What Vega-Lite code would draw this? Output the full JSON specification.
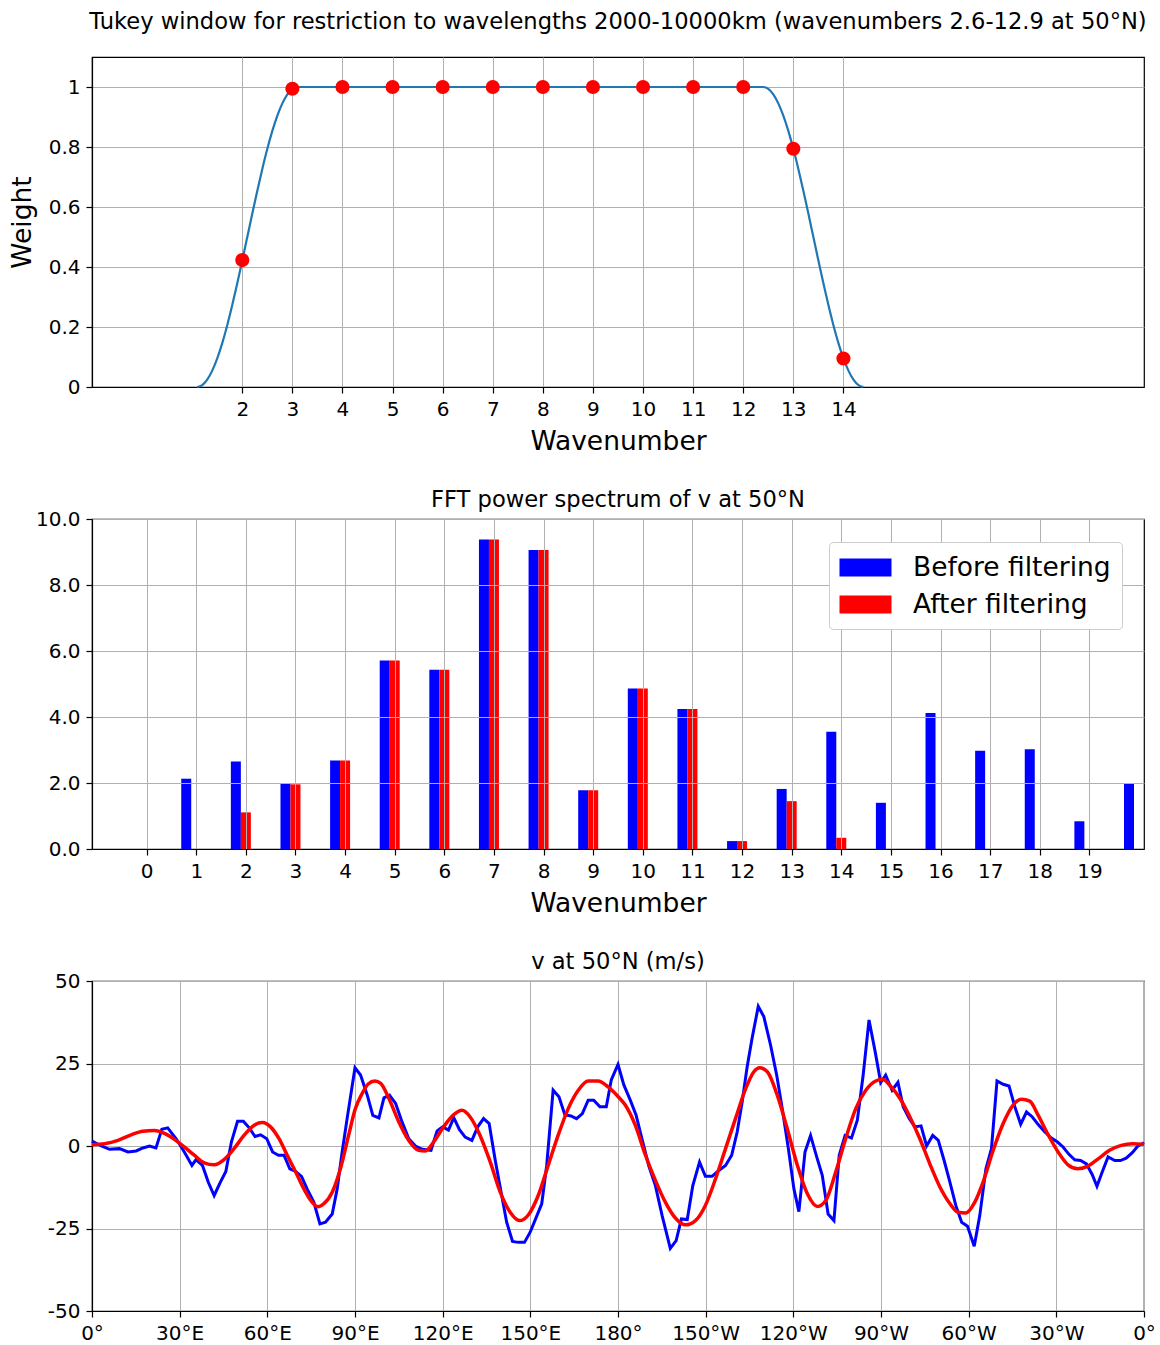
{
  "$schema": "https://vega.github.io/schema/vega-lite/v6.json",
  "background": "white",
  "padding": {"left": 8, "top": 10, "right": 5, "bottom": 2},
  "bounds": "flush",
  "spacing": 132,
  "resolve": {"legend": {"color": "independent"}},
  "config": {
    "font": "DejaVu Sans",
    "view": {"stroke": "#000000", "strokeWidth": 1.2},
    "axis": {
      "labelFont": "DejaVu Sans", "labelFontSize": 20, "labelColor": "#000000", "labelFlush": false,
      "titleFont": "DejaVu Sans", "titleFontSize": 26.5, "titleFontWeight": "normal", "titleColor": "#000000",
      "gridColor": "#b0b0b0", "gridWidth": 1, "gridOpacity": 1,
      "tickColor": "#000000", "tickSize": 6, "tickWidth": 1.2,
      "domainColor": "#000000", "domainWidth": 1.2, "labelPadding": 6
    },
    "title": {"font": "DejaVu Sans", "fontSize": 22.6, "fontWeight": "normal", "color": "#000000", "frame": "group"}
  },
  "datasets": {
    "tukey": [
      {"k": 1.1, "w": 0}, {"k": 1.2, "w": 0.0062}, {"k": 1.3, "w": 0.0245}, {"k": 1.4, "w": 0.0545},
      {"k": 1.5, "w": 0.0955}, {"k": 1.6, "w": 0.1464}, {"k": 1.7, "w": 0.2061}, {"k": 1.8, "w": 0.273},
      {"k": 1.9, "w": 0.3455}, {"k": 2.0, "w": 0.4218}, {"k": 2.1, "w": 0.5}, {"k": 2.2, "w": 0.5782},
      {"k": 2.3, "w": 0.6545}, {"k": 2.4, "w": 0.727}, {"k": 2.5, "w": 0.7939}, {"k": 2.6, "w": 0.8536},
      {"k": 2.7, "w": 0.9045}, {"k": 2.8, "w": 0.9455}, {"k": 2.9, "w": 0.9755}, {"k": 3.0, "w": 0.9938},
      {"k": 3.1, "w": 1}, {"k": 12.4, "w": 1}, {"k": 12.5, "w": 0.9938}, {"k": 12.6, "w": 0.9755},
      {"k": 12.7, "w": 0.9455}, {"k": 12.8, "w": 0.9045}, {"k": 12.9, "w": 0.8536}, {"k": 13.0, "w": 0.7939},
      {"k": 13.1, "w": 0.727}, {"k": 13.2, "w": 0.6545}, {"k": 13.3, "w": 0.5782}, {"k": 13.4, "w": 0.5},
      {"k": 13.5, "w": 0.4218}, {"k": 13.6, "w": 0.3455}, {"k": 13.7, "w": 0.273}, {"k": 13.8, "w": 0.2061},
      {"k": 13.9, "w": 0.1464}, {"k": 14.0, "w": 0.0955}, {"k": 14.1, "w": 0.0545}, {"k": 14.2, "w": 0.0245},
      {"k": 14.3, "w": 0.0062}, {"k": 14.4, "w": 0}
    ],
    "pts": [
      {"k": 2, "w": 0.423}, {"k": 3, "w": 0.994}, {"k": 4, "w": 1}, {"k": 5, "w": 1}, {"k": 6, "w": 1},
      {"k": 7, "w": 1}, {"k": 8, "w": 1}, {"k": 9, "w": 1}, {"k": 10, "w": 1}, {"k": 11, "w": 1},
      {"k": 12, "w": 1}, {"k": 13, "w": 0.794}, {"k": 14, "w": 0.095}
    ],
    "spec": [
      {"k": 0, "series": "Before filtering", "p": 0}, {"k": 0, "series": "After filtering", "p": 0},
      {"k": 1, "series": "Before filtering", "p": 2.13}, {"k": 1, "series": "After filtering", "p": 0},
      {"k": 2, "series": "Before filtering", "p": 2.65}, {"k": 2, "series": "After filtering", "p": 1.11},
      {"k": 3, "series": "Before filtering", "p": 1.97}, {"k": 3, "series": "After filtering", "p": 1.96},
      {"k": 4, "series": "Before filtering", "p": 2.68}, {"k": 4, "series": "After filtering", "p": 2.68},
      {"k": 5, "series": "Before filtering", "p": 5.71}, {"k": 5, "series": "After filtering", "p": 5.71},
      {"k": 6, "series": "Before filtering", "p": 5.43}, {"k": 6, "series": "After filtering", "p": 5.43},
      {"k": 7, "series": "Before filtering", "p": 9.38}, {"k": 7, "series": "After filtering", "p": 9.38},
      {"k": 8, "series": "Before filtering", "p": 9.06}, {"k": 8, "series": "After filtering", "p": 9.06},
      {"k": 9, "series": "Before filtering", "p": 1.78}, {"k": 9, "series": "After filtering", "p": 1.78},
      {"k": 10, "series": "Before filtering", "p": 4.86}, {"k": 10, "series": "After filtering", "p": 4.86},
      {"k": 11, "series": "Before filtering", "p": 4.24}, {"k": 11, "series": "After filtering", "p": 4.24},
      {"k": 12, "series": "Before filtering", "p": 0.24}, {"k": 12, "series": "After filtering", "p": 0.24},
      {"k": 13, "series": "Before filtering", "p": 1.82}, {"k": 13, "series": "After filtering", "p": 1.45},
      {"k": 14, "series": "Before filtering", "p": 3.55}, {"k": 14, "series": "After filtering", "p": 0.34},
      {"k": 15, "series": "Before filtering", "p": 1.4}, {"k": 15, "series": "After filtering", "p": 0},
      {"k": 16, "series": "Before filtering", "p": 4.12}, {"k": 16, "series": "After filtering", "p": 0},
      {"k": 17, "series": "Before filtering", "p": 2.98}, {"k": 17, "series": "After filtering", "p": 0},
      {"k": 18, "series": "Before filtering", "p": 3.02}, {"k": 18, "series": "After filtering", "p": 0},
      {"k": 19, "series": "Before filtering", "p": 0.84}, {"k": 19, "series": "After filtering", "p": 0},
      {"k": 20, "series": "Before filtering", "p": 1.97}, {"k": 20, "series": "After filtering", "p": 0}
    ],
    "vblue": [
      {"lon": 0, "v": 1.5}, {"lon": 3.2, "v": 0}, {"lon": 6, "v": -1}, {"lon": 9.4, "v": -0.8},
      {"lon": 12.3, "v": -1.8}, {"lon": 15.1, "v": -1.5}, {"lon": 17.4, "v": -0.6}, {"lon": 19.7, "v": 0},
      {"lon": 21.9, "v": -0.6}, {"lon": 23.9, "v": 5.1}, {"lon": 25.9, "v": 5.5}, {"lon": 28.8, "v": 2.2},
      {"lon": 31.6, "v": -1.8}, {"lon": 34.2, "v": -5.9}, {"lon": 35.6, "v": -4.1}, {"lon": 37.8, "v": -5.9},
      {"lon": 39.8, "v": -11}, {"lon": 41.8, "v": -15}, {"lon": 43.9, "v": -11}, {"lon": 45.8, "v": -7.7},
      {"lon": 47.7, "v": 1.2}, {"lon": 49.8, "v": 7.5}, {"lon": 51.8, "v": 7.5}, {"lon": 53.8, "v": 5.5},
      {"lon": 55.8, "v": 2.9}, {"lon": 57.7, "v": 3.4}, {"lon": 59.8, "v": 2.2}, {"lon": 61.8, "v": -1.8},
      {"lon": 63.8, "v": -2.8}, {"lon": 65.7, "v": -2.8}, {"lon": 67.7, "v": -6.9}, {"lon": 69.7, "v": -7.7},
      {"lon": 71.7, "v": -9.2}, {"lon": 73.6, "v": -13}, {"lon": 75.9, "v": -17}, {"lon": 78, "v": -23.6},
      {"lon": 79.9, "v": -23.1}, {"lon": 82.2, "v": -20.6}, {"lon": 83.9, "v": -13}, {"lon": 85.6, "v": -1.8},
      {"lon": 87.3, "v": 8.3}, {"lon": 90, "v": 23.7}, {"lon": 91.9, "v": 21.5}, {"lon": 94.2, "v": 15.4},
      {"lon": 96.1, "v": 9.3}, {"lon": 98.2, "v": 8.5}, {"lon": 99.9, "v": 14.6}, {"lon": 101.8, "v": 15.4},
      {"lon": 103.9, "v": 12.9}, {"lon": 106.1, "v": 7.3}, {"lon": 108.4, "v": 2.2}, {"lon": 110.7, "v": 0},
      {"lon": 113, "v": -1}, {"lon": 116, "v": -1.3}, {"lon": 118.1, "v": 4.6}, {"lon": 120, "v": 5.8},
      {"lon": 122, "v": 4.8}, {"lon": 123.8, "v": 8.6}, {"lon": 125.7, "v": 5}, {"lon": 127.7, "v": 2.7},
      {"lon": 130, "v": 1.7}, {"lon": 132, "v": 5.8}, {"lon": 134, "v": 8.3}, {"lon": 135.9, "v": 6.8},
      {"lon": 138, "v": -4.4}, {"lon": 140, "v": -14}, {"lon": 141.9, "v": -23.1}, {"lon": 143.9, "v": -28.9},
      {"lon": 145.9, "v": -29.2}, {"lon": 148, "v": -29.2}, {"lon": 149.9, "v": -26.2}, {"lon": 151.8, "v": -22.1},
      {"lon": 153.9, "v": -17.5}, {"lon": 155.6, "v": -5.9}, {"lon": 157.8, "v": 16.9}, {"lon": 159.8, "v": 14.9},
      {"lon": 161.8, "v": 9.5}, {"lon": 163.9, "v": 9.1}, {"lon": 165.8, "v": 8.3}, {"lon": 167.8, "v": 9.8},
      {"lon": 169.8, "v": 13.9}, {"lon": 171.7, "v": 13.9}, {"lon": 173.8, "v": 11.9}, {"lon": 176, "v": 11.9},
      {"lon": 177.7, "v": 20}, {"lon": 180, "v": 24.7}, {"lon": 182, "v": 18.5}, {"lon": 184.2, "v": 13.9},
      {"lon": 186.2, "v": 9.3}, {"lon": 188.2, "v": 2.2}, {"lon": 190.5, "v": -5.9}, {"lon": 192.8, "v": -12},
      {"lon": 195.1, "v": -21.1}, {"lon": 197.9, "v": -31}, {"lon": 199.9, "v": -28.7}, {"lon": 201.7, "v": -22.1},
      {"lon": 203.7, "v": -22.3}, {"lon": 205.6, "v": -12}, {"lon": 207.9, "v": -4.9}, {"lon": 209.9, "v": -9.2},
      {"lon": 212.2, "v": -9.2}, {"lon": 214.5, "v": -7.4}, {"lon": 216.8, "v": -5.9}, {"lon": 218.9, "v": -2.8},
      {"lon": 220.8, "v": 4.3}, {"lon": 222.5, "v": 13.4}, {"lon": 224.2, "v": 24}, {"lon": 225.9, "v": 32.7},
      {"lon": 228, "v": 42.3}, {"lon": 229.9, "v": 39.2}, {"lon": 232.2, "v": 30.6}, {"lon": 234.3, "v": 21.5},
      {"lon": 236.2, "v": 11.4}, {"lon": 238.3, "v": -0.8}, {"lon": 240.2, "v": -13}, {"lon": 241.9, "v": -19.9},
      {"lon": 244, "v": -1.8}, {"lon": 245.9, "v": 3.2}, {"lon": 248, "v": -3.3}, {"lon": 249.9, "v": -8.9},
      {"lon": 251.9, "v": -20.6}, {"lon": 253.9, "v": -22.6}, {"lon": 255.7, "v": -2.8}, {"lon": 257.7, "v": 3.2},
      {"lon": 259.9, "v": 2.4}, {"lon": 261.9, "v": 7.8}, {"lon": 263.9, "v": 21.5}, {"lon": 265.9, "v": 38.2},
      {"lon": 268, "v": 28.6}, {"lon": 269.9, "v": 19.2}, {"lon": 271.6, "v": 21.5}, {"lon": 273.8, "v": 16.9},
      {"lon": 275.8, "v": 19.3}, {"lon": 277.6, "v": 11.9}, {"lon": 279.7, "v": 8.3}, {"lon": 281.6, "v": 5.8},
      {"lon": 283.7, "v": 6.1}, {"lon": 285.6, "v": 0}, {"lon": 287.7, "v": 3.2}, {"lon": 289.6, "v": 1.7},
      {"lon": 291.6, "v": -4.4}, {"lon": 293.6, "v": -11}, {"lon": 295.6, "v": -18}, {"lon": 297.6, "v": -23.1},
      {"lon": 299.6, "v": -24.3}, {"lon": 301.9, "v": -30.4}, {"lon": 303.8, "v": -21.1}, {"lon": 305.9, "v": -6.9},
      {"lon": 307.8, "v": -0.8}, {"lon": 309.7, "v": 19.7}, {"lon": 311.8, "v": 18.7}, {"lon": 313.8, "v": 18.2},
      {"lon": 315.8, "v": 11.9}, {"lon": 317.8, "v": 6.6}, {"lon": 319.8, "v": 10.3}, {"lon": 321.8, "v": 8.8},
      {"lon": 323.8, "v": 6.5}, {"lon": 326, "v": 4.3}, {"lon": 328.3, "v": 2.4}, {"lon": 330.4, "v": 1.2},
      {"lon": 332.3, "v": -0.3}, {"lon": 334.4, "v": -2.6}, {"lon": 336.3, "v": -4.2}, {"lon": 338.3, "v": -4.4},
      {"lon": 340.3, "v": -5.4}, {"lon": 342.3, "v": -8.7}, {"lon": 343.9, "v": -12.2}, {"lon": 345.7, "v": -7.9},
      {"lon": 347.7, "v": -3.3}, {"lon": 350, "v": -4.4}, {"lon": 351.9, "v": -4.4}, {"lon": 353.9, "v": -3.7},
      {"lon": 356, "v": -2}, {"lon": 357.9, "v": 0}, {"lon": 360, "v": 1.0}
    ],
    "vred": [
      {"lon": 0, "v": 0.4}, {"lon": 4.3, "v": 0.7}, {"lon": 8.9, "v": 1.7}, {"lon": 13.4, "v": 3.4},
      {"lon": 17.4, "v": 4.5}, {"lon": 21.4, "v": 4.7}, {"lon": 24.8, "v": 3.8}, {"lon": 28.2, "v": 2},
      {"lon": 31.6, "v": -0.3}, {"lon": 35, "v": -2.8}, {"lon": 38.4, "v": -5.1}, {"lon": 41.8, "v": -5.7},
      {"lon": 45.2, "v": -4.1}, {"lon": 48.6, "v": -0.8}, {"lon": 52, "v": 3.2}, {"lon": 55.5, "v": 6.3},
      {"lon": 58.3, "v": 7.1}, {"lon": 61.1, "v": 5.8}, {"lon": 64, "v": 2.2}, {"lon": 66.8, "v": -2.8},
      {"lon": 69.7, "v": -7.9}, {"lon": 72.5, "v": -13}, {"lon": 75.3, "v": -17}, {"lon": 77.3, "v": -18.4},
      {"lon": 79.3, "v": -17.5}, {"lon": 82.2, "v": -14}, {"lon": 85, "v": -6.9}, {"lon": 87.8, "v": 3.2},
      {"lon": 90, "v": 11}, {"lon": 92.5, "v": 16}, {"lon": 94.5, "v": 18.8}, {"lon": 96.8, "v": 19.7},
      {"lon": 98.8, "v": 19}, {"lon": 101.6, "v": 14.4}, {"lon": 105, "v": 7.3}, {"lon": 108.4, "v": 1.7},
      {"lon": 111.8, "v": -1.3}, {"lon": 114.1, "v": -1.5}, {"lon": 116.9, "v": 1.2}, {"lon": 120.3, "v": 5.8},
      {"lon": 123.8, "v": 9.5}, {"lon": 126.6, "v": 10.8}, {"lon": 129.4, "v": 8.8}, {"lon": 132.8, "v": 3.2},
      {"lon": 136.3, "v": -4.9}, {"lon": 139.7, "v": -14}, {"lon": 143.1, "v": -20.1}, {"lon": 146.3, "v": -22.6},
      {"lon": 149.3, "v": -20.9}, {"lon": 152.7, "v": -15}, {"lon": 156.1, "v": -5.9}, {"lon": 159.5, "v": 3.2},
      {"lon": 163, "v": 11.4}, {"lon": 166.4, "v": 16.9}, {"lon": 169.8, "v": 19.7}, {"lon": 173.2, "v": 19.7},
      {"lon": 176.6, "v": 17.9}, {"lon": 180, "v": 15}, {"lon": 182.5, "v": 12.4}, {"lon": 185.9, "v": 6.3},
      {"lon": 189.4, "v": -2.8}, {"lon": 192.8, "v": -10.4}, {"lon": 196.2, "v": -17}, {"lon": 199.7, "v": -21.9},
      {"lon": 203.1, "v": -23.9}, {"lon": 206.5, "v": -22.6}, {"lon": 209.9, "v": -18}, {"lon": 213.4, "v": -9.9},
      {"lon": 216.8, "v": -0.8}, {"lon": 220.2, "v": 8.3}, {"lon": 223.7, "v": 17.4}, {"lon": 226.5, "v": 22.5},
      {"lon": 228.5, "v": 23.7}, {"lon": 231.1, "v": 22.5}, {"lon": 234.5, "v": 15.4}, {"lon": 237.9, "v": 5.3},
      {"lon": 241.4, "v": -5.9}, {"lon": 244.8, "v": -14.5}, {"lon": 248.2, "v": -18.3}, {"lon": 251.1, "v": -16.5},
      {"lon": 254.5, "v": -7.9}, {"lon": 257.9, "v": 2.2}, {"lon": 261.4, "v": 11.4}, {"lon": 264.8, "v": 16.9},
      {"lon": 268.2, "v": 19.7}, {"lon": 270.5, "v": 20.2}, {"lon": 273.5, "v": 17.9}, {"lon": 276.5, "v": 14.4},
      {"lon": 279.9, "v": 8.8}, {"lon": 283.3, "v": 2.2}, {"lon": 286.7, "v": -5.4}, {"lon": 290.2, "v": -12.5},
      {"lon": 293.6, "v": -17.5}, {"lon": 296.4, "v": -20.1}, {"lon": 299, "v": -20.3}, {"lon": 302.1, "v": -17},
      {"lon": 304.9, "v": -11}, {"lon": 308.4, "v": -1.3}, {"lon": 311.8, "v": 6.8}, {"lon": 315.2, "v": 12.4},
      {"lon": 318.1, "v": 14.2}, {"lon": 320.9, "v": 13.6}, {"lon": 323.8, "v": 9.3}, {"lon": 327.2, "v": 3.4},
      {"lon": 330.6, "v": -1.8}, {"lon": 334, "v": -5.7}, {"lon": 337.4, "v": -6.9}, {"lon": 340.8, "v": -6.1},
      {"lon": 344.3, "v": -3.9}, {"lon": 348.2, "v": -1.3}, {"lon": 352.2, "v": 0.2}, {"lon": 356.2, "v": 0.7},
      {"lon": 360, "v": 0.5}
    ]
  },
  "vconcat": [
    {
      "width": 1052,
      "height": 330,
      "title": {"text": "Tukey window for restriction to wavelengths 2000-10000km (wavenumbers 2.6-12.9 at 50°N)", "offset": 23},
      "layer": [
        {
          "data": {"name": "tukey"},
          "mark": {"type": "line", "color": "#1f77b4", "strokeWidth": 2.2, "interpolate": "monotone"},
          "encoding": {
            "x": {"field": "k", "type": "quantitative", "scale": {"domain": [-1, 20], "nice": false, "zero": false},
                  "axis": {"values": [2, 3, 4, 5, 6, 7, 8, 9, 10, 11, 12, 13, 14], "title": "Wavenumber", "titlePadding": 9}},
            "y": {"field": "w", "type": "quantitative", "scale": {"domain": [0, 1.1], "nice": false},
                  "axis": {"values": [0, 0.2, 0.4, 0.6, 0.8, 1], "format": "~g", "title": "Weight", "titlePadding": 12}}
          }
        },
        {
          "data": {"name": "pts"},
          "mark": {"type": "circle", "color": "#ff0000", "size": 200, "opacity": 1},
          "encoding": {
            "x": {"field": "k", "type": "quantitative"},
            "y": {"field": "w", "type": "quantitative"}
          }
        }
      ]
    },
    {
      "width": 1052,
      "height": 330,
      "title": {"text": "FFT power spectrum of v at 50°N", "offset": -3},
      "data": {"name": "spec"},
      "encoding": {
        "x": {"field": "k", "type": "quantitative", "scale": {"domain": [-1, 20], "nice": false, "zero": false},
              "axis": {"values": [0, 1, 2, 3, 4, 5, 6, 7, 8, 9, 10, 11, 12, 13, 14, 15, 16, 17, 18, 19], "title": "Wavenumber", "titlePadding": 9, "zindex": 1}},
        "y": {"field": "p", "type": "quantitative", "scale": {"domain": [0, 10], "nice": false},
              "axis": {"values": [0, 2, 4, 6, 8, 10], "format": ".1f", "title": null, "zindex": 1}},
        "color": {"field": "series", "type": "nominal",
                  "scale": {"domain": ["Before filtering", "After filtering"], "range": ["#0000ff", "#ff0000"]},
                  "legend": {"orient": "none", "legendX": 737, "legendY": 23, "title": null, "fillColor": "#ffffff", "strokeColor": "#cccccc",
                             "cornerRadius": 4, "padding": 11, "labelFontSize": 26.5, "labelFont": "DejaVu Sans", "labelColor": "#000000",
                             "labelLimit": 500,
                             "symbolType": "M-1.8,-0.62H1.8V0.62H-1.8Z", "symbolSize": 835, "symbolStrokeWidth": 0, "symbolOpacity": 1,
                             "labelOffset": 33, "rowPadding": 9, "symbolOffset": 11, "zindex": 2}}
      },
      "layer": [
        {
          "transform": [{"filter": "datum.series == 'Before filtering'"}],
          "mark": {"type": "bar", "width": 10, "xOffset": -10}
        },
        {
          "transform": [{"filter": "datum.series == 'After filtering'"}],
          "mark": {"type": "bar", "width": 10, "xOffset": 0}
        }
      ]
    },
    {
      "width": 1052,
      "height": 330,
      "title": {"text": "v at 50°N (m/s)", "offset": -3},
      "layer": [
        {
          "data": {"name": "vblue"},
          "mark": {"type": "line", "color": "#0000ff", "strokeWidth": 3},
          "encoding": {
            "x": {"field": "lon", "type": "quantitative", "scale": {"domain": [0, 360], "nice": false},
                  "axis": {"values": [0, 30, 60, 90, 120, 150, 180, 210, 240, 270, 300, 330, 360], "title": null,
                           "labelExpr": "datum.value == 0 || datum.value == 360 ? '0°' : datum.value == 180 ? '180°' : datum.value < 180 ? datum.value + '°E' : (360 - datum.value) + '°W'"}},
            "y": {"field": "v", "type": "quantitative", "scale": {"domain": [-50, 50], "nice": false},
                  "axis": {"values": [-50, -25, 0, 25, 50], "title": null,
                           "labelExpr": "datum.value < 0 ? '-' + (-datum.value) : '' + datum.value"}}
          }
        },
        {
          "data": {"name": "vred"},
          "mark": {"type": "line", "color": "#ff0000", "strokeWidth": 3.5, "interpolate": "monotone"},
          "encoding": {
            "x": {"field": "lon", "type": "quantitative"},
            "y": {"field": "v", "type": "quantitative"}
          }
        }
      ]
    }
  ]
}
